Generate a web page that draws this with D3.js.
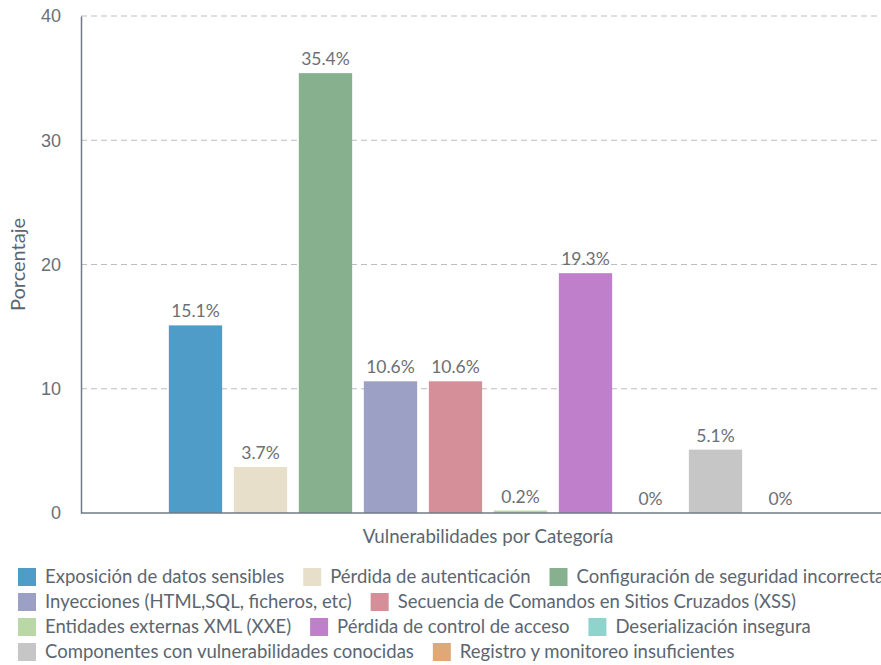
<!DOCTYPE html>
<html>
<head>
<meta charset="utf-8">
<script src="https://cdn.jsdelivr.net/npm/d3@7"></script>
<style>
  body { margin: 0; background: #fff; }
  svg { display: block; font-family: Lato, sans-serif; }
</style>
</head>
<body>
<svg id="chart" width="881" height="665"></svg>
<script>
const categories = [
  "Exposición de datos sensibles",
  "Pérdida de autenticación",
  "Configuración de seguridad incorrecta",
  "Inyecciones (HTML,SQL, ficheros, etc)",
  "Secuencia de Comandos en Sitios Cruzados (XSS)",
  "Entidades externas XML (XXE)",
  "Pérdida de control de acceso",
  "Deserialización insegura",
  "Componentes con vulnerabilidades conocidas",
  "Registro y monitoreo insuficientes"
];
const values = [15.1, 3.7, 35.4, 10.6, 10.6, 0.2, 19.3, 0, 5.1, 0];
const colors = ["#4f9cc8", "#e8dfca", "#86b08e", "#9ca0c5", "#d48f98",
                "#b9d8a5", "#c07fca", "#8fd4cc", "#c6c6c6", "#e1a877"];
const groups = ["Vulnerabilidades por Categoría"];
const yTicks = [0, 10, 20, 30, 40];

const svg = d3.select("#chart");
const mLeft = 81, mRight = 895, mTop = 16, mBottom = 513;

const y = d3.scaleLinear().domain([0, 40]).range([mBottom, mTop]);
const x0 = d3.scaleBand().domain(groups).range([mLeft, mRight]).padding(0.112);
const x1 = d3.scaleBand().domain(categories).range([0, x0.bandwidth()])
  .paddingInner(0.18).paddingOuter(0.09);

// Grid
svg.append("g").selectAll("line")
  .data(yTicks.filter(d => d > 0))
  .join("line")
  .attr("x1", mLeft).attr("x2", mRight + 20)
  .attr("y1", d => y(d)).attr("y2", d => y(d))
  .attr("stroke", "#bdbdbd")
  .attr("stroke-dasharray", "6,4");

// Y axis
const yAxis = svg.append("g")
  .attr("transform", `translate(${mLeft},0)`)
  .call(d3.axisLeft(y).tickValues(yTicks).tickSize(0).tickPadding(20));
yAxis.select(".domain").attr("stroke", "#6f7a84").attr("stroke-width", 1.5);
yAxis.selectAll("text")
  .attr("font-family", "'Liberation Sans', Arial, sans-serif")
  .attr("font-size", 18).attr("fill", "#6b6f75");

// Bars
const grp = svg.append("g").selectAll("g")
  .data(groups)
  .join("g")
  .attr("transform", d => `translate(${x0(d)},0)`);

grp.selectAll("rect")
  .data(categories.map((c, i) => ({ c, v: values[i], col: colors[i] })))
  .join("rect")
  .attr("x", d => x1(d.c))
  .attr("y", d => y(d.v))
  .attr("width", x1.bandwidth())
  .attr("height", d => y(0) - y(d.v))
  .attr("fill", d => d.col);

grp.selectAll("text")
  .data(categories.map((c, i) => ({ c, v: values[i] })))
  .join("text")
  .attr("x", d => x1(d.c) + x1.bandwidth() / 2)
  .attr("y", d => y(d.v) - 8)
  .attr("text-anchor", "middle")
  .attr("font-size", 17.5)
  .attr("fill", "#6b6f75")
  .text(d => d.v + "%");

// baseline
svg.append("line")
  .attr("x1", mLeft).attr("x2", mRight + 20)
  .attr("y1", y(0)).attr("y2", y(0))
  .attr("stroke", "#6f7a84").attr("stroke-width", 1.5);

// Axis titles
svg.append("text")
  .attr("x", (mLeft + mRight) / 2).attr("y", 543)
  .attr("text-anchor", "middle")
  .attr("font-size", 18.7).attr("fill", "#5b6670")
  .text(groups[0]);

svg.append("text")
  .attr("transform", `translate(25,${(mTop + mBottom) / 2}) rotate(-90)`)
  .attr("text-anchor", "middle")
  .attr("font-size", 20).attr("fill", "#5b6670")
  .text("Porcentaje");

// Legend
const legend = svg.append("g");
const maxW = 980, rowH = 25, sw = 18;
let lx = 18, ly = 577;
categories.forEach((c, i) => {
  const item = legend.append("g");
  item.append("rect")
    .attr("width", sw).attr("height", sw)
    .attr("y", -sw / 2)
    .attr("fill", colors[i]);
  const t = item.append("text")
    .attr("x", sw + 9).attr("dy", "0.35em")
    .attr("font-size", 18.5).attr("fill", "#5b6670")
    .text(c);
  const w = sw + 9 + t.node().getComputedTextLength();
  if (lx + w > maxW && lx > 18) { lx = 18; ly += rowH; }
  item.attr("transform", `translate(${lx},${ly})`);
  lx += w + 19;
});
</script>
</body>
</html>
